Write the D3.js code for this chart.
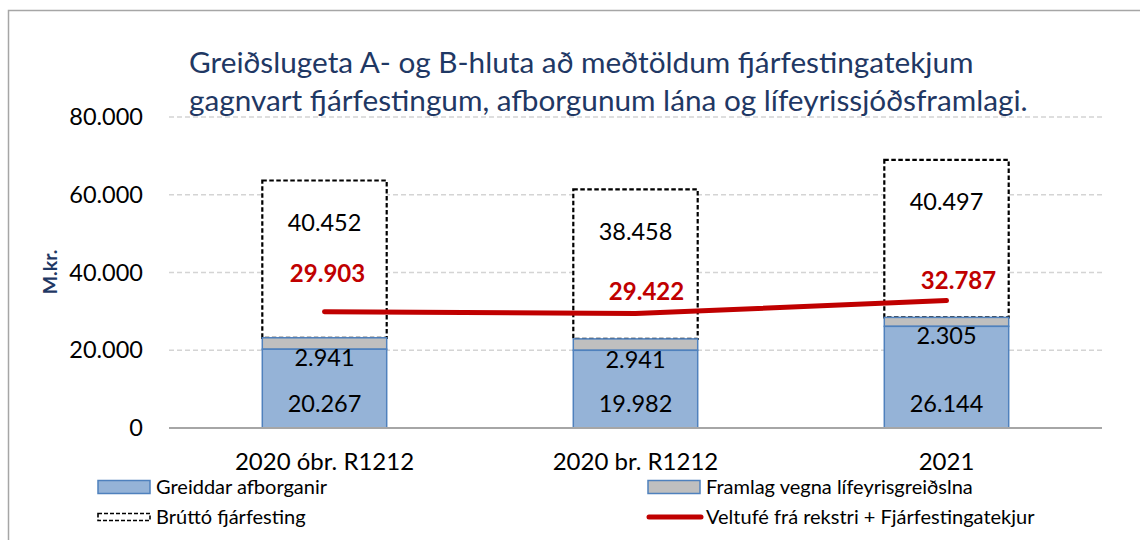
<!DOCTYPE html>
<html>
<head>
<meta charset="utf-8">
<script src="https://cdn.jsdelivr.net/npm/d3@7/dist/d3.min.js"></script>
<style>
  html, body { margin: 0; padding: 0; background: #fff; }
  svg { display: block; font-family: Lato, "Open Sans", sans-serif; }
</style>
</head>
<body>
<svg id="chart" width="1140" height="540"></svg>
<script>
// ---- data ----
const categories = ["2020 óbr. R1212", "2020 br. R1212", "2021"];
const greiddarAfborganir = [20267, 19982, 26144];
const framlagLifeyris = [2941, 2941, 2305];
const bruttoFjarfesting = [40452, 38458, 40497];
const veltufe = [29903, 29422, 32787];
const yTicks = [0, 20000, 40000, 60000, 80000];
const titleLines = [
  "Greiðslugeta A- og B-hluta að meðtöldum fjárfestingatekjum",
  "gagnvart fjárfestingum, afborgunum lána og lífeyrissjóðsframlagi."
];
const yAxisTitle = "M.kr.";
const legendLabels = [
  "Greiddar afborganir",
  "Framlag vegna lífeyrisgreiðslna",
  "Brúttó fjárfesting",
  "Veltufé frá rekstri + Fjárfestingatekjur"
];

// ---- layout ----
const svg = d3.select("#chart");
const plotLeft = 169, plotRight = 1102, plotTop = 117, plotBottom = 428;
const navy = "#1F3864";
const locale = d3.formatLocale({ decimal: ",", thousands: ".", grouping: [3], currency: ["", ""] });
const fmt = locale.format(",d");

const x = d3.scaleBand().domain(categories).range([plotLeft, plotRight]).paddingInner(0.6).paddingOuter(0.3);
const y = d3.scaleLinear().domain([0, 80000]).range([plotBottom, plotTop]);

// frame
svg.append("path")
  .attr("d", `M8.5,545 L8.5,10.5 L1145,10.5`)
  .attr("fill", "none").attr("stroke", "#A6A6A6").attr("stroke-width", 1.5);

// gridlines
svg.append("g").selectAll("line").data(yTicks.filter(d => d > 0)).join("line")
  .attr("x1", plotLeft).attr("x2", plotRight)
  .attr("y1", d => y(d)).attr("y2", d => y(d))
  .attr("stroke", "#D4D4D4").attr("stroke-width", 1.3).attr("stroke-dasharray", "5,3");

// y axis labels
const yAxis = d3.axisLeft(y).tickValues(yTicks).tickFormat(d => fmt(d)).tickSize(0).tickPadding(0);
const yg = svg.append("g").attr("transform", `translate(143,0)`).call(yAxis);
yg.select(".domain").remove();
yg.selectAll("text").attr("font-size", 23.5).attr("fill", "#000").attr("font-family", "Lato, sans-serif");

// y axis title
svg.append("text")
  .attr("transform", `translate(50,272) rotate(-90)`)
  .attr("text-anchor", "middle").attr("dy", "0.35em")
  .attr("font-size", 19.5).attr("font-weight", "bold").attr("fill", navy)
  .text(yAxisTitle);

// title
const titleG = svg.append("g");
const tl = titleG.selectAll("text").data(titleLines).join("text")
  .attr("x", 189).attr("y", (d, i) => 73 + i * 38)
  .attr("fill", navy).attr("font-size", 28).text(d => d);
// fit font size to target widths
(function () {
  const targets = [781, 843];
  let sizes = [];
  tl.each(function (d, i) { sizes.push(28 * targets[i] / this.getComputedTextLength()); });
  const s = d3.mean(sizes);
  tl.attr("font-size", s);
})();

// stacks
const stackData = categories.map((c, i) => ({
  cat: c,
  a: greiddarAfborganir[i],
  f: framlagLifeyris[i],
  b: bruttoFjarfesting[i]
}));
const bw = x.bandwidth();
const bars = svg.append("g");

// brutto (dashed box) on top
bars.selectAll("rect.brutto").data(stackData).join("rect").attr("class", "brutto")
  .attr("x", d => x(d.cat)).attr("width", bw)
  .attr("y", d => y(d.a + d.f + d.b))
  .attr("height", d => y(d.a + d.f) - y(d.a + d.f + d.b))
  .attr("fill", "#fff").attr("stroke", "#000").attr("stroke-width", 2.2).attr("stroke-dasharray", "4.5,2.5");

// framlag (grey)
bars.selectAll("rect.framlag").data(stackData).join("rect").attr("class", "framlag")
  .attr("x", d => x(d.cat)).attr("width", bw)
  .attr("y", d => y(d.a + d.f))
  .attr("height", d => y(d.a) - y(d.a + d.f))
  .attr("fill", "#BFBFBF").attr("stroke", "#4F81BD").attr("stroke-width", 1.5);

// greiddar afborganir (blue)
bars.selectAll("rect.greidd").data(stackData).join("rect").attr("class", "greidd")
  .attr("x", d => x(d.cat)).attr("width", bw)
  .attr("y", d => y(d.a))
  .attr("height", d => y(0) - y(d.a))
  .attr("fill", "#95B3D7").attr("stroke", "#4F81BD").attr("stroke-width", 1.5);

// zero axis line
svg.append("line").attr("x1", plotLeft).attr("x2", plotRight)
  .attr("y1", y(0)).attr("y2", y(0)).attr("stroke", "#A6A6A6").attr("stroke-width", 2);

// category labels
svg.append("g").selectAll("text").data(categories).join("text")
  .attr("x", d => x(d) + bw / 2).attr("y", 470)
  .attr("text-anchor", "middle").attr("font-size", 24).attr("fill", "#000")
  .text(d => d);

// red line
const cx = d => x(d) + bw / 2;
svg.append("path")
  .datum(categories.map((c, i) => [cx(c), y(veltufe[i])]))
  .attr("d", d3.line())
  .attr("fill", "none").attr("stroke", "#C00000").attr("stroke-width", 5).attr("stroke-linecap", "round");

// data labels
const lbl = svg.append("g").attr("font-size", 23.5).attr("text-anchor", "middle");
lbl.selectAll("text.bl").data(stackData).join("text").attr("class", "bl")
  .attr("x", d => cx(d.cat)).attr("y", d => y(d.a + d.f + d.b) + 42).attr("dy", "0.35em")
  .text(d => fmt(d.b));
lbl.selectAll("text.fl").data(stackData).join("text").attr("class", "fl")
  .attr("x", d => cx(d.cat)).attr("y", d => y(d.a) + 9).attr("dy", "0.35em")
  .text(d => fmt(d.f));
lbl.selectAll("text.al").data(stackData).join("text").attr("class", "al")
  .attr("x", d => cx(d.cat)).attr("y", y(0) - 24).attr("dy", "0.35em")
  .text(d => fmt(d.a));
// red labels (manually nudged in the original)
const redNudge = [[3, -38], [11, -22], [12, -20]];
lbl.selectAll("text.vl").data(veltufe).join("text").attr("class", "vl")
  .attr("x", (d, i) => cx(categories[i]) + redNudge[i][0])
  .attr("y", (d, i) => y(d) + redNudge[i][1]).attr("dy", "0.35em")
  .attr("fill", "#C00000").attr("font-weight", "bold").attr("font-size", 24)
  .text(d => fmt(d));

// legend
const lg = svg.append("g").attr("font-size", 20);
const legendItems = [
  { x: 98, y: 487, type: "rect", fill: "#95B3D7", stroke: "#4F81BD" },
  { x: 648, y: 487, type: "rect", fill: "#BFBFBF", stroke: "#4F81BD" },
  { x: 98, y: 517, type: "dash" },
  { x: 648, y: 517, type: "line" }
];
legendItems.forEach((it, i) => {
  if (it.type === "rect") {
    lg.append("rect").attr("x", it.x).attr("y", it.y - 6.5).attr("width", 52).attr("height", 13)
      .attr("fill", it.fill).attr("stroke", it.stroke).attr("stroke-width", 1.5);
  } else if (it.type === "dash") {
    lg.append("rect").attr("x", it.x).attr("y", it.y - 3.5).attr("width", 52).attr("height", 7)
      .attr("fill", "#fff").attr("stroke", "#000").attr("stroke-width", 1.6).attr("stroke-dasharray", "4,2");
  } else {
    lg.append("line").attr("x1", it.x + 1).attr("x2", it.x + 53).attr("y1", it.y).attr("y2", it.y)
      .attr("stroke", "#C00000").attr("stroke-width", 5).attr("stroke-linecap", "round");
  }
  lg.append("text").attr("x", it.x + 58).attr("y", it.y).attr("dy", "0.35em").attr("fill", "#000")
    .text(legendLabels[i]);
});
</script>
</body>
</html>
